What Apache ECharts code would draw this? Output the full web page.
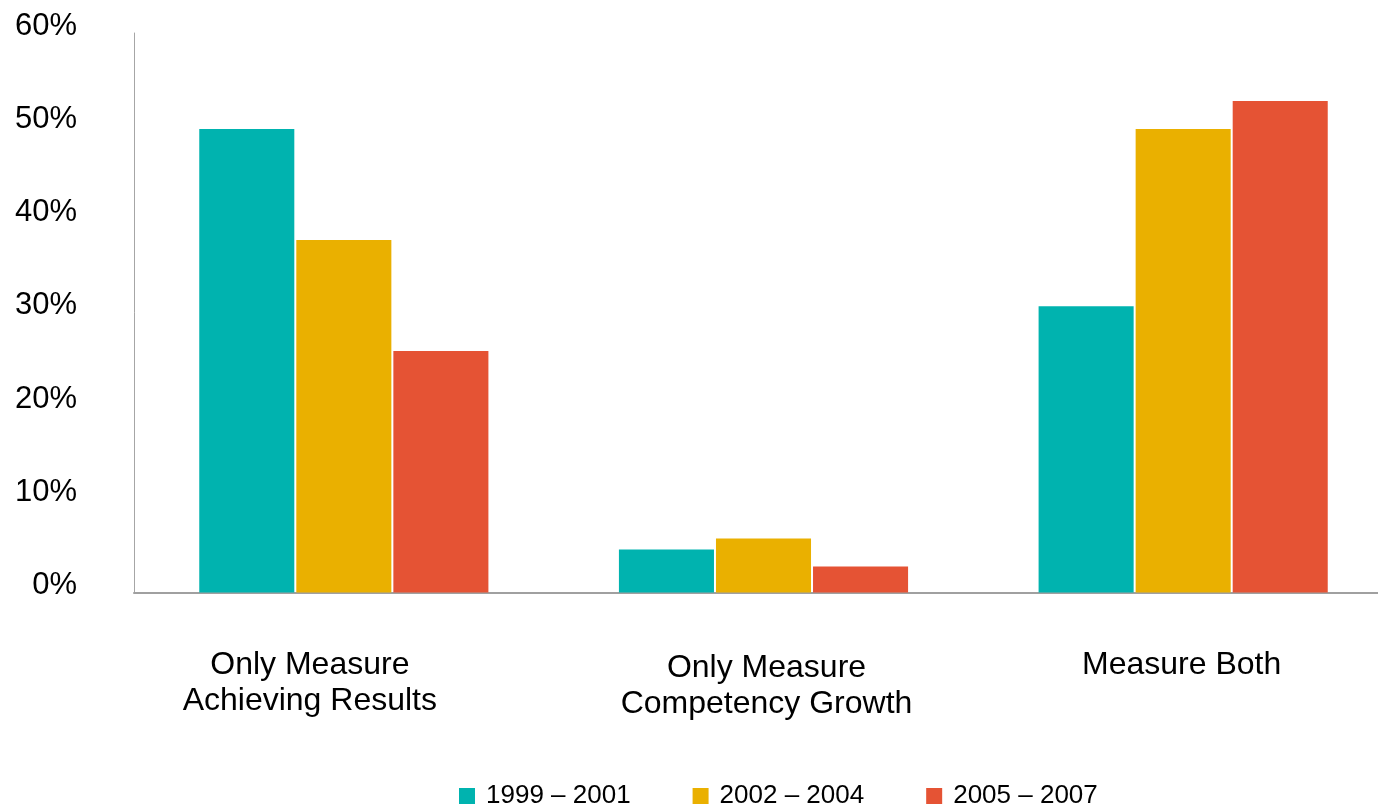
<!DOCTYPE html>
<html>
<head>
<meta charset="utf-8">
<script src="https://cdn.jsdelivr.net/npm/echarts@6/dist/echarts.min.js"></script>
<style>
html,body{margin:0;padding:0;background:#fff;overflow:hidden;width:1378px;height:807px;}
#chart{width:1393px;height:807px;}
</style>
</head>
<body>
<div id="chart"></div>
<script>
const categories = ['Only Measure\nAchieving Results', 'Only Measure\nCompetency Growth', 'Measure Both'];
const seriesNames = ['1999 – 2001', '2002 – 2004', '2005 – 2007'];
const values1999 = [49.7, 4.6, 30.7];
const values2002 = [37.8, 5.8, 49.7];
const values2005 = [25.9, 2.8, 52.7];
const yTicks = [0, 10, 20, 30, 40, 50, 60];
const colors = ['#00B3AF', '#EAB000', '#E55334'];

const FONT = '"Liberation Sans", Arial, sans-serif';
const chart = echarts.init(document.getElementById('chart'));

const catPads = [[0, 68, 0, 0], [3, 0, 0, 6], [0, 3, 0, 0]];
const catData = categories.map((c, i) => ({
  value: c,
  textStyle: { padding: catPads[i] }
}));

const allSeries = [values1999, values2002, values2005];

chart.setOption({
  animation: false,
  color: colors,
  grid: { left: 134, right: 0, top: 33, bottom: 214.5, containLabel: false },
  legend: {
    data: seriesNames,
    left: 459,
    top: 783,
    padding: 0,
    itemWidth: 16,
    itemHeight: 16,
    itemGap: 62,
    icon: 'rect',
    textStyle: { fontFamily: FONT, fontSize: 26, color: '#000', padding: [0, 0, 0, 6] }
  },
  xAxis: {
    type: 'category',
    data: catData,
    axisLine: { show: true, lineStyle: { color: '#a0a0a0', width: 2 } },
    axisTick: { show: false },
    axisLabel: {
      interval: 0,
      margin: 55,
      fontFamily: FONT,
      fontSize: 32,
      lineHeight: 36,
      color: '#000'
    }
  },
  yAxis: {
    type: 'value',
    min: yTicks[0],
    max: yTicks[yTicks.length - 1],
    interval: 10,
    splitLine: { show: false },
    axisTick: { show: false },
    axisLine: { show: true, lineStyle: { color: '#a6a6a6', width: 1 } },
    axisLabel: {
      margin: 57,
      fontFamily: FONT,
      fontSize: 31,
      color: '#000',
      verticalAlign: 'bottom',
      lineHeight: 14,
      formatter: v => v + '%'
    }
  },
  series: allSeries.map((d, i) => ({
    name: seriesNames[i],
    type: 'bar',
    data: d,
    barGap: '2.1%',
    barCategoryGap: '31.1%',
    itemStyle: { color: colors[i] }
  }))
});
</script>
</body>
</html>
